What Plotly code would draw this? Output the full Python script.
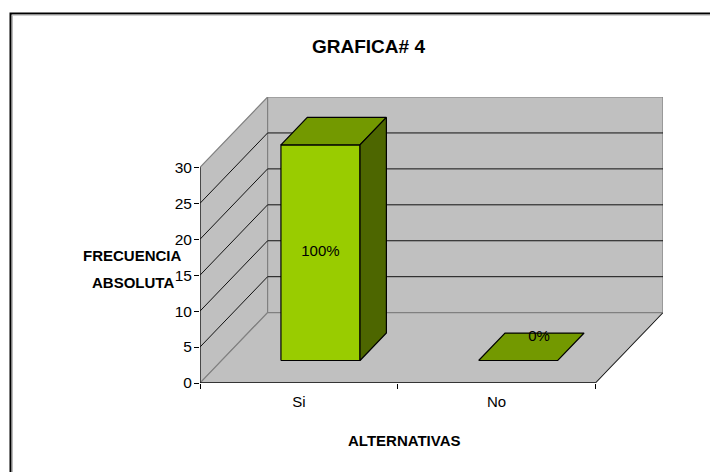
import plotly.graph_objects as go

# ---- data -------------------------------------------------------------
categorias = ["Si", "No"]
frecuencias = [30, 0]
y_ticks = [0, 5, 10, 15, 20, 25, 30]
titulo = "GRAFICA# 4"
titulo_y = ["FRECUENCIA", "ABSOLUTA"]
titulo_x = "ALTERNATIVAS"

# ---- styling ----------------------------------------------------------
FONT = "Liberation Sans, Arial, sans-serif"
C_FRONT = "#99CC00"
C_TOP = "#739900"
C_SIDE = "#4D6600"
C_WALL = "#C0C0C0"
C_EDGE = "#808080"

W, H = 710, 472
M_L, M_R, M_T, M_B = 200, 47, 97, 89
Y_MAX = y_ticks[-1]

# oblique projection: full depth of the floor in axis units
DEPTH_X = 0.342
DEPTH_Y = 9.79
BAR_W = 0.4
BAR_D0, BAR_D1 = 0.32, 0.71

X_LO = -0.5
X_HI = len(categorias) - 0.5
x_range = [X_LO, X_HI + DEPTH_X]
y_range = [0, Y_MAX + DEPTH_Y]


def proj(x, v, d):
    """Map (category position, value, depth 0..1) to axis coordinates."""
    return x + d * DEPTH_X, v + d * DEPTH_Y


def poly(points):
    xs = [p[0] for p in points] + [points[0][0]]
    ys = [p[1] for p in points] + [points[0][1]]
    return xs, ys


def path(points):
    s = "M " + " L ".join(f"{x},{y}" for x, y in points)
    return s + " Z"


shapes = []

# walls and floor
left_wall = [proj(X_LO, 0, 0), proj(X_LO, Y_MAX, 0), proj(X_LO, Y_MAX, 1), proj(X_LO, 0, 1)]
back_wall = [proj(X_LO, 0, 1), proj(X_LO, Y_MAX, 1), proj(X_HI, Y_MAX, 1), proj(X_HI, 0, 1)]
floor = [proj(X_LO, 0, 0), proj(X_HI, 0, 0), proj(X_HI, 0, 1), proj(X_LO, 0, 1)]
for pts in (left_wall, back_wall, floor):
    shapes.append(dict(type="path", path=path(pts), xref="x", yref="y", layer="below",
                       fillcolor=C_WALL, line=dict(color=C_EDGE, width=1.2)))

# gridlines: across the side wall and along the back wall
for v in y_ticks[1:-1]:
    a, b, c = proj(X_LO, v, 0), proj(X_LO, v, 1), proj(X_HI, v, 1)
    shapes.append(dict(type="line", x0=a[0], y0=a[1], x1=b[0], y1=b[1], xref="x", yref="y",
                       layer="below", line=dict(color="#111111", width=1)))
    shapes.append(dict(type="line", x0=b[0], y0=b[1], x1=c[0], y1=c[1], xref="x", yref="y",
                       layer="below", line=dict(color="#111111", width=1)))

# floor right edge
a, b = proj(X_HI, 0, 0), proj(X_HI, 0, 1)
shapes.append(dict(type="line", x0=a[0], y0=a[1], x1=b[0], y1=b[1], xref="x", yref="y",
                   layer="below", line=dict(color="#222222", width=1)))

# value axis line and category axis line on the front plane
shapes.append(dict(type="line", x0=X_LO, y0=0, x1=X_LO, y1=Y_MAX, xref="x", yref="y",
                   line=dict(color="#111111", width=1.2)))
shapes.append(dict(type="line", x0=X_LO, y0=0, x1=X_HI, y1=0, xref="x", yref="y",
                   line=dict(color="#111111", width=1.5)))

# chart border (runs off the right and bottom of the page)
pw, ph = W - M_L - M_R, H - M_T - M_B


def px_x(p):
    return (p - M_L) / pw


def px_y(p):
    return (H - M_B - p) / ph


shapes.append(dict(type="rect", xref="paper", yref="paper",
                   x0=px_x(10.5), x1=px_x(W + 20), y0=px_y(H + 20), y1=px_y(13.5),
                   line=dict(color="#000000", width=2)))
shapes.append(dict(type="rect", xref="paper", yref="paper",
                   x0=px_x(12.5), x1=px_x(W + 20), y0=px_y(H + 20), y1=px_y(15.2),
                   line=dict(color="#BBBBBB", width=1)))

fig = go.Figure()

# 3-D columns
total = sum(frecuencias)
lab_x, lab_y, lab_t = [], [], []
for i, v in enumerate(frecuencias):
    x0, x1 = i - BAR_W / 2, i + BAR_W / 2
    front = [proj(x0, 0, BAR_D0), proj(x0, v, BAR_D0), proj(x1, v, BAR_D0), proj(x1, 0, BAR_D0)]
    top = [proj(x0, v, BAR_D0), proj(x0, v, BAR_D1), proj(x1, v, BAR_D1), proj(x1, v, BAR_D0)]
    side = [proj(x1, 0, BAR_D0), proj(x1, v, BAR_D0), proj(x1, v, BAR_D1), proj(x1, 0, BAR_D1)]
    faces = [(front, C_FRONT), (top, C_TOP), (side, C_SIDE)] if v > 0 else [(top, C_TOP)]
    for pts, col in faces:
        xs, ys = poly(pts)
        fig.add_trace(go.Scatter(x=xs, y=ys, mode="lines", fill="toself", fillcolor=col,
                                 line=dict(color="#000000", width=1.2), hoverinfo="skip",
                                 showlegend=False))
    if v > 0:
        lx, ly = proj(i, v / 2, BAR_D0)
    else:
        lx, ly = proj(i, v, 0.63)
        ly += 0.2
    lab_x.append(lx)
    lab_y.append(ly)
    lab_t.append(f"{round(100 * v / total)}%")

fig.add_trace(go.Scatter(x=lab_x, y=lab_y, text=lab_t, mode="text",
                         textfont=dict(family=FONT, size=15, color="#000000"),
                         hoverinfo="skip", showlegend=False))

annotations = [
    dict(text=titulo_y[0], x=px_x(132.6), y=px_y(255.5)),
    dict(text=titulo_y[1], x=px_x(132.8), y=px_y(282.7)),
    dict(text=titulo_x, x=px_x(404), y=px_y(440.5)),
]
for a in annotations:
    a.update(xref="paper", yref="paper", showarrow=False, xanchor="center", yanchor="middle",
             font=dict(family=FONT, size=15, color="#000000", weight="bold"))
annotations.append(dict(text=titulo, xref="paper", yref="paper", x=px_x(368.7), y=px_y(46),
                        showarrow=False, xanchor="center", yanchor="middle",
                        font=dict(family=FONT, size=19, color="#000000", weight="bold")))

fig.update_layout(
    width=W, height=H,
    margin=dict(l=M_L, r=M_R, t=M_T, b=M_B, autoexpand=False),
    paper_bgcolor="#FFFFFF", plot_bgcolor="rgba(0,0,0,0)",
    shapes=shapes, annotations=annotations, showlegend=False,
    xaxis=dict(range=x_range, tickmode="array", tickvals=list(range(len(categorias))),
               ticktext=categorias, ticks="", showgrid=False, zeroline=False, showline=False,
               automargin=False, ticklabelstandoff=8,
               tickfont=dict(family=FONT, size=15, color="#000000"),
               minor=dict(tickmode="array", tickvals=[X_LO + k for k in range(len(categorias) + 1)],
                          ticks="outside", ticklen=5, tickcolor="#000000", tickwidth=1,
                          showgrid=False)),
    yaxis=dict(range=y_range, tickmode="array", tickvals=y_ticks, ticks="outside", ticklen=5,
               tickcolor="#000000", tickwidth=1, showgrid=False, zeroline=False, showline=False,
               automargin=False, ticklabelstandoff=-1,
               tickfont=dict(family=FONT, size=15.5, color="#000000")),
)

fig.write_html("out.html")
